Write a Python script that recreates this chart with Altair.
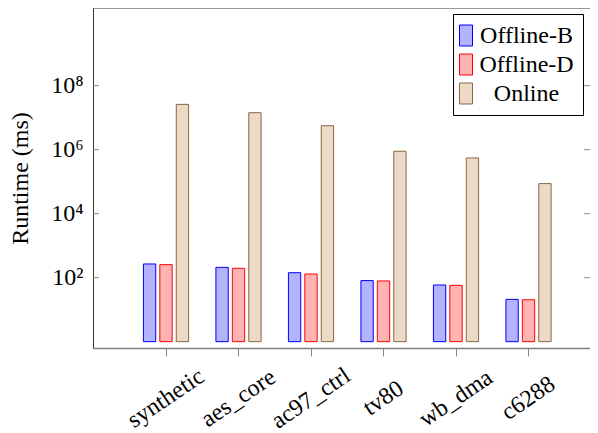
import altair as alt
import pandas as pd

benchmarks = ["synthetic", "aes_core", "ac97_ctrl", "tv80", "wb_dma", "c6288"]
series_names = ["Offline-B", "Offline-D", "Online"]
offline_b = [268, 210, 143, 81, 59, 21]
offline_d = [255, 196, 130, 79, 57.5, 20.4]
online = [2.6e7, 1.43e7, 5.6e6, 8.9e5, 5.5e5, 8.7e4]
y_ticks = [1e2, 1e4, 1e6, 1e8]
fill_colors = ["#b3b3ff", "#ffb3b3", "#ecd9c6"]
stroke_colors = ["#0000ff", "#ff0000", "#8b6644"]

rows = []
for i, b in enumerate(benchmarks):
    for s, vals in zip(series_names, [offline_b, offline_d, online]):
        rows.append({"bench": b, "series": s, "value": vals[i], "base": 1})
df = pd.DataFrame(rows)
ticks_df = pd.DataFrame({"t": y_ticks})
one_df = pd.DataFrame({"k": [0]})

W, H = 497, 340
FONT = "Liberation Serif"

yscale = alt.Scale(type="log", domain=[0.634, 2.67e10], nice=False)
xscale = alt.Scale(paddingInner=0.32, paddingOuter=0.5875, align=0.5676)

legend = alt.Legend(
    title=None, orient="none", legendX=360, legendY=6, direction="vertical",
    strokeColor="black", fillColor="white", padding=9, cornerRadius=0,
    labelFont=FONT, labelFontSize=24, labelColor="black", labelAlign="center",
    labelOffset=39.5, symbolType="M-1.25,-0.875H-0.1667V0.875H-1.25Z",
    symbolSize=576, symbolStrokeWidth=1, rowPadding=4,
)

bars = alt.Chart(df).mark_bar(strokeWidth=1, opacity=1).encode(
    x=alt.X("bench:N", sort=benchmarks, scale=xscale, axis=alt.Axis(
        title=None, labelAngle=326, labelAlign="center", labelBaseline="middle",
        labelPadding=42, tickSize=8, tickColor="#888888", domainColor="#808080",
        domainWidth=1.5, labelFont=FONT, labelFontSize=24, labelColor="black",
        labelOverlap=False, labelFlush=False, labelBound=False, grid=False)),
    xOffset=alt.XOffset("series:N", sort=series_names,
                        scale=alt.Scale(paddingInner=0.25, paddingOuter=0.125)),
    y=alt.Y("value:Q", scale=yscale, axis=alt.Axis(
        values=y_ticks,
        labelExpr="'10' + ['⁰','¹','²','³','⁴','⁵','⁶','⁷','⁸','⁹'][round(log(datum.value)/LN10)]",
        ticks=False, labelPadding=10, title="Runtime (ms)", titleFont=FONT,
        titleFontSize=24, titleFontWeight="normal", titleColor="black",
        titleX=-73, titleY=170, titleAlign="center", titleBaseline="middle",
        titleAngle=270, domainColor="#333333", grid=False, labelFont=FONT,
        labelFontSize=24, labelColor="black")),
    y2="base:Q",
    fill=alt.Fill("series:N", scale=alt.Scale(domain=series_names, range=fill_colors), legend=legend),
    stroke=alt.Stroke("series:N", scale=alt.Scale(domain=series_names, range=stroke_colors), legend=legend),
)

left_ticks = alt.Chart(ticks_df).mark_rule(color="#888888", strokeWidth=1).encode(
    y=alt.Y("t:Q", scale=yscale), x=alt.value(0), x2=alt.value(6))
right_ticks = alt.Chart(ticks_df).mark_rule(color="#888888", strokeWidth=1).encode(
    y=alt.Y("t:Q", scale=yscale), x=alt.value(W - 6), x2=alt.value(W))
top_line = alt.Chart(one_df).mark_rule(color="#333333", strokeWidth=1).encode(
    y=alt.value(0), x=alt.value(0), x2=alt.value(W))

chart = alt.layer(bars, left_ticks, right_ticks, top_line).properties(
    width=W, height=H,
    autosize=alt.AutoSizeParams(type="none"),
    padding={"left": 85, "top": 0, "right": 0, "bottom": 90},
).configure_view(stroke="transparent")

chart.save("out.html", embed_options={"renderer": "svg", "actions": False})
